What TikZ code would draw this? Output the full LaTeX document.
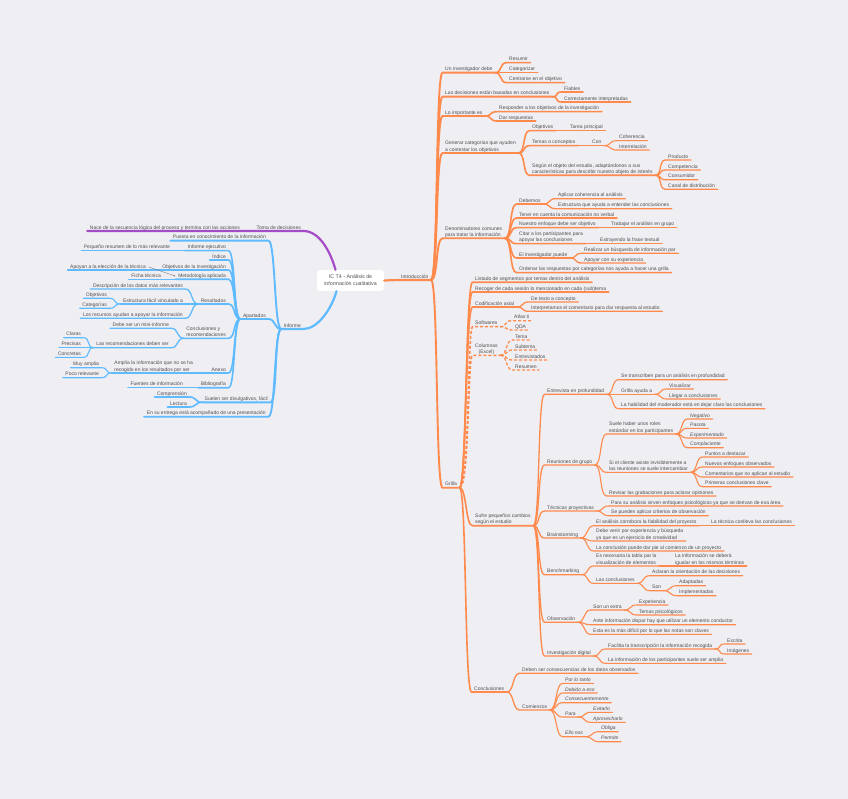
\documentclass[tikz,border=0pt]{standalone}
\usepackage{fontspec}
\setmainfont{Liberation Sans}
\usetikzlibrary{arrows.meta}
\definecolor{Paper}{HTML}{EEEEF3}
\definecolor{Ink}{HTML}{505050}
\definecolor{Orange}{HTML}{FF8A4C}
\definecolor{Sky}{HTML}{5EBBFF}
\definecolor{Violet}{HTML}{A64BC8}
\newcommand\tstrut{\rule[-1.0pt]{0pt}{4pt}}
\tikzset{
  topic/.style={inner xsep=2.5pt,inner ysep=0.6pt,text=Ink,align=left,
    font=\fontsize{5}{6.3}\selectfont,execute at end node=\tstrut},
  rt/.style={topic,anchor=south west},
  lt/.style={topic,anchor=south east},
  it/.style={font=\fontsize{5}{6.3}\selectfont\itshape},
  centre/.style={fill=white,rounded corners=3pt,minimum width=67pt,minimum height=21pt,
    inner sep=0pt,align=center,text=Ink,font=\fontsize{5.3}{7}\selectfont},
  w1/.style={line width=2.2pt,line cap=round,line join=round},
  w2/.style={line width=1.9pt,line cap=round,line join=round},
  w3/.style={line width=1.6pt,line cap=round,line join=round},
  w4/.style={line width=1.3pt,line cap=round,line join=round},
  w5/.style={line width=1.1pt,line cap=round,line join=round},
  dsh/.style={dash pattern=on 3pt off 2pt,line cap=butt}
}
\begin{document}
\begin{tikzpicture}[x=1pt,y=-1pt]
  \useasboundingbox (0,0) rectangle (848,799);
  \fill[Paper] (0,0) rectangle (848,799);

  % centre
  \node[centre] (root) at (350.5,280.5) {IC T4 - Análisis de\\información cualitativa};

  % Introduccion
  \node[rt] (intro) at (398.5,280) {Introducción};
  \node[rt] (uid) at (442.5,72.7) {Un investigador debe};
  \node[rt] (res) at (506.5,62.7) {Resumir};
  \node[rt] (cat) at (506.5,72.7) {Categorizar};
  \node[rt] (cen) at (506.5,82.7) {Centrarse en el objetivo};
  \node[rt] (dec) at (442.5,96.7) {Las decisiones están basadas en conclusiones};
  \node[rt] (fia) at (561.5,92) {Fiables};
  \node[rt] (cor) at (561.5,102) {Correctamente interpretadas};
  \node[rt] (imp) at (442.5,116) {Lo importante es};
  \node[rt] (rsp) at (496.5,111.7) {Responder a los objetivos de la investigación};
  \node[rt] (dar) at (496.5,121) {Dar respuestas};
  \node[rt] (gen) at (442.5,153) {Generar categorías que ayuden\\a contestar los objetivos};
  \node[rt] (obj) at (529.5,130.7) {Objetivos};
  \node[rt] (tar) at (567.5,130.7) {Tarea principal};
  \node[rt] (tem) at (529.5,145.7) {Temas o conceptos};
  \node[rt] (con) at (589.5,145.7) {Con};
  \node[rt] (coh) at (616.5,140.7) {Coherencia};
  \node[rt] (itr) at (616.5,150) {Interrelación};
  \node[rt] (seg) at (529.5,175.3) {Según el objeto del estudio, adaptándonos a sus\\características para describir nuestro objeto de interés};
  \node[rt] (pro) at (665.5,160) {Producto};
  \node[rt] (cpt) at (665.5,170) {Competencia};
  \node[rt] (csm) at (665.5,179.7) {Consumidor};
  \node[rt] (cnl) at (665.5,189.3) {Canal de distribución};
  \node[rt] (den) at (442.5,238.3) {Denominadores comunes\\para tratar la información};
  \node[rt] (deb) at (516.5,204) {Debemos};
  \node[rt] (apl) at (555.5,198.7) {Aplicar coherencia al análisis};
  \node[rt] (est) at (555.5,208.7) {Estructura que ayuda a entender las conclusiones};
  \node[rt] (ten) at (516.5,218) {Tener en cuenta la comunicación no verbal};
  \node[rt] (nue) at (516.5,227.7) {Nuestro enfoque debe ser objetivo};
  \node[rt] (tra) at (608.5,227.7) {Trabajar el análisis en grupo};
  \node[rt] (cit) at (516.5,243.7) {Citar a los participantes para\\apoyar las conclusiones};
  \node[rt] (ext) at (597.5,243.7) {Extrayendo la frase textual};
  \node[rt] (inv) at (516.5,258) {El investigador puede};
  \node[rt] (rea) at (581.5,253.3) {Realizar un búsqueda de información par};
  \node[rt] (apo) at (581.5,263) {Apoyar con su experiencia};
  \node[rt] (ord) at (516.5,272.7) {Ordenar las respuestas por categorías nos ayuda a hacer una grilla};

  % Grilla
  \node[rt] (gri) at (442.5,487.7) {Grilla};
  \node[rt] (lis) at (472.5,282.3) {Listado de segmentos por temas dentro del análisis};
  \node[rt] (rec) at (472.5,292) {Recoger de cada sesión lo mencionado en cada (sub)tema};
  \node[rt] (cod) at (472.5,307) {Codificación axial};
  \node[rt] (txc) at (528.5,302) {De texto a concepto};
  \node[rt] (ipr) at (528.5,311.3) {Interpretamos el comentario para dar respuesta al estudio};
  \node[rt] (sof) at (472.5,326.7) {Softwares};
  \node[rt] (atl) at (511.5,320.7) {Atlas ti};
  \node[rt] (qda) at (512.5,330) {QDA};
  \node[rt,align=center] (col) at (472.5,355.3) {Columnas\\(Excel)};
  \node[rt] (tma) at (512.5,340) {Tema};
  \node[rt] (sbt) at (512.5,350) {Subtema};
  \node[rt] (etv) at (512.5,360) {Entrevistados};
  \node[rt] (rsm) at (512.5,370) {Resumen};
  \node[rt] (suf) at (472.5,525.7) {Sufre pequeños cambios\\según el estudio};
  \node[rt] (ent) at (544.5,394.3) {Entrevista en profundidad};
  \node[rt] (stp) at (618.5,379.7) {Se transcriben para un análisis en profundidad};
  \node[rt] (gay) at (618.5,394.3) {Grilla ayuda a};
  \node[rt] (vis) at (666.5,389) {Visualizar};
  \node[rt] (llc) at (666.5,399) {Llegar a conclusiones};
  \node[rt] (hab) at (618.5,408.7) {La habilidad del moderador está en dejar claro las conclusiones};
  \node[rt] (reu) at (544.5,465) {Reuniones de grupo};
  \node[rt] (rol) at (606.5,434) {Suele haber unos roles\\estándar en los participantes};
  \node[rt,it] (neg) at (687.5,419) {Negativo};
  \node[rt,it] (pas) at (687.5,428.3) {Pasota};
  \node[rt,it] (exm) at (687.5,438) {Experimentado};
  \node[rt,it] (cpl) at (687.5,447.7) {Complaciente};
  \node[rt] (cli) at (606.5,472.3) {Si el cliente asiste invisiblemente a\\las reuniones se suele intercambiar};
  \node[rt] (pad) at (702.5,457) {Puntos a destacar};
  \node[rt] (neo) at (702.5,467) {Nuevos enfoques observados};
  \node[rt] (cna) at (702.5,477) {Comentarios que no aplican al estudio};
  \node[rt] (pcc) at (702.5,486.7) {Primeras conclusiones clave};
  \node[rt] (rev) at (606.5,496) {Revisar las grabaciones para aclarar opiniones};
  \node[rt] (tec) at (544.5,511) {Técnicas proyectivas};
  \node[rt] (psa) at (608.5,506) {Para su análisis sirven enfoques psicológicos ya que se derivan de esa área};
  \node[rt] (spa) at (608.5,515.7) {Se pueden aplicar criterios de observación};
  \node[rt] (bra) at (544.5,538) {Brainstorming};
  \node[rt] (cob) at (593.5,525.7) {El análisis corrobora la fiabilidad del proyecto};
  \node[rt] (tcc) at (708.5,525.7) {La técnica conlleva las conclusiones};
  \node[rt] (dvp) at (593.5,541) {Debe venir por experiencia y búsqueda\\ya que es un ejercicio de creatividad};
  \node[rt] (lcp) at (593.5,551) {La conclusión puede dar pie al comienzo de un proyecto};
  \node[rt] (ben) at (544.5,574.7) {Benchmarking};
  \node[rt] (nec) at (593.5,566) {Es necesaria la tabla par la\\visualización de elementos};
  \node[rt] (lid) at (672.5,566) {La información se deberá\\igualar en los mismos términos};
  \node[rt] (lcs) at (593.5,583.3) {Las conclusiones};
  \node[rt] (acl) at (649.5,575.7) {Aclaran la orientación de las decisiones};
  \node[rt] (son) at (649.5,590.7) {Son};
  \node[rt] (adp) at (676.5,585.7) {Adaptadas};
  \node[rt] (ipl) at (676.5,595.7) {Implementadas};
  \node[rt] (obs) at (544.5,622.3) {Observación};
  \node[rt] (sux) at (590.5,610) {Son un extra};
  \node[rt] (exi) at (636.5,605) {Experiencia};
  \node[rt] (tps) at (636.5,615) {Temas psicológicos};
  \node[rt] (aid) at (590.5,624.7) {Ante información dispar hay que utilizar un elemento conductor};
  \node[rt] (emd) at (590.5,634.3) {Esta es la más difícil por lo que las notas son claves};
  \node[rt] (dig) at (544.5,656) {Investigación digital};
  \node[rt] (ftr) at (605.5,649) {Facilita la transcripción la información recogida};
  \node[rt] (esc) at (724.5,644) {Escrita};
  \node[rt] (img) at (724.5,654) {Imágenes};
  \node[rt] (ipa) at (605.5,663.3) {La información de los participantes suele ser amplia};
  \node[rt] (cnc) at (471.5,692) {Conclusiones};
  \node[rt] (dsc) at (519.5,673.3) {Deben ser consecuencias de los datos observados};
  \node[rt] (cmz) at (519.5,710) {Comienzos};
  \node[rt,it] (plt) at (562.5,683.3) {Por lo tanto};
  \node[rt,it] (dae) at (562.5,693) {Debido a eso};
  \node[rt,it] (csc) at (562.5,702.7) {Consecuentemente};
  \node[rt,it] (pra) at (562.5,717) {Para};
  \node[rt,it] (evi) at (590.5,712.3) {Evitarlo};
  \node[rt,it] (apr) at (590.5,722.3) {Aprovecharlo};
  \node[rt,it] (eln) at (562.5,736.7) {Ello nos};
  \node[rt,it] (obl) at (598.5,731.7) {Obliga};
  \node[rt,it] (pmt) at (598.5,741.7) {Permite};

  % Toma de decisiones / Informe
  \node[lt] (tdd) at (303.5,231) {Toma de decisiones};
  \node[lt] (nac) at (242.5,231) {Nace de la secuencia lógica del proceso y termina con las acciones};
  \node[lt] (inf) at (303.5,329) {Informe};
  \node[lt] (pue) at (268.5,240.7) {Puesta en conocimiento de la información};
  \node[lt] (apa) at (268.5,319) {Apartados};
  \node[lt] (iej) at (228.5,250.7) {Informe ejecutivo};
  \node[lt] (pqr) at (172.5,250.7) {Pequeño resumen de lo más relevante};
  \node[lt] (ind) at (228.5,260) {Índice};
  \node[lt] (oin) at (228.5,270) {Objetivos de la investigación};
  \node[lt] (apy) at (148.5,270) {Apoyan a la elección de la técnica};
  \node[lt] (met) at (228.5,279.3) {Metodología aplicada};
  \node[lt] (fic) at (163.5,279.3) {Ficha técnica};
  \node[lt] (rsl) at (228.5,304) {Resultados};
  \node[lt] (dlr) at (185.5,289) {Descripción de los datos más relevantes};
  \node[lt] (efv) at (185.5,304) {Estructura fácil vinculado a};
  \node[lt] (ojl) at (109.5,298.3) {Objetivos};
  \node[lt] (ctl) at (109.5,308.3) {Categorías};
  \node[lt] (lra) at (185.5,318.3) {Los recursos ayudan a apoyar la información};
  \node[lt] (cyr) at (228.5,338.3) {Conclusiones y\\recomendaciones};
  \node[lt] (dmi) at (171.5,328.3) {Debe ser un mini-informe};
  \node[lt] (lrd) at (171.5,347.7) {Las recomendaciones deben ser};
  \node[lt] (clr) at (83.5,337.7) {Claras};
  \node[lt] (prc) at (83.5,347.7) {Precisas};
  \node[lt] (cct) at (83.5,357.3) {Concretas};
  \node[lt] (anx) at (228.5,373) {Anexo};
  \node[lt] (ami) at (195.5,373) {Amplía la información que no se ha\\recogido en los resultados por ser};
  \node[lt] (mam) at (101.5,367.7) {Muy amplia};
  \node[lt] (pcr) at (101.5,377.7) {Poco relevante};
  \node[lt] (bib) at (228.5,387.7) {Bibliografía};
  \node[lt] (fdi) at (185.5,387.7) {Fuentes de información};
  \node[lt] (sdv) at (270.5,402.3) {Suelen ser divulgativos, fácil};
  \node[lt] (cpn) at (189.5,397) {Comprensión};
  \node[lt] (lec) at (189.5,407) {Lectura};
  \node[lt] (ens) at (268.5,416.7) {En su entrega está acompañado de una presentación};

  % connectors, right
  \draw[Orange,w1] (root.east) -- (intro.south west) -- (intro.south east);
  \foreach \a/\b in {intro/uid,intro/dec,intro/imp,intro/gen,intro/den,intro/gri}
    \draw[Orange,w2] (\a.south east) .. controls +(7,0) and +(-7,0) .. (\b.south west) -- (\b.south east);
  \foreach \a/\b in {gri/lis,gri/rec,gri/cod,gri/suf,gri/cnc,uid/res,uid/cat,uid/cen,dec/fia,dec/cor,
      imp/rsp,imp/dar,gen/obj,gen/tem,gen/seg,den/deb,den/ten,den/nue,den/cit,den/inv,den/ord}
    \draw[Orange,w3] (\a.south east) .. controls +(7,0) and +(-7,0) .. (\b.south west) -- (\b.south east);
  \foreach \a/\b in {gri/sof,gri/col}
    \draw[Orange,w3,dsh] (\a.south east) .. controls +(10,0) and +(-5,0) .. (\b.south west) -- (\b.south east);
  \foreach \a/\b in {cod/txc,cod/ipr,suf/ent,suf/reu,suf/tec,suf/bra,suf/ben,suf/obs,suf/dig,cnc/dsc,cnc/cmz,
      obj/tar,tem/con,seg/pro,seg/cpt,seg/csm,seg/cnl,deb/apl,deb/est,nue/tra,cit/ext,inv/rea,inv/apo}
    \draw[Orange,w4] (\a.south east) .. controls +(7,0) and +(-7,0) .. (\b.south west) -- (\b.south east);
  \foreach \a/\b in {sof/atl,sof/qda,col/tma,col/sbt,col/etv,col/rsm}
    \draw[Orange,w4,dsh] (\a.south east) .. controls +(7,0) and +(-7,0) .. (\b.south west) -- (\b.south east);
  \foreach \a/\b in {ent/stp,ent/gay,ent/hab,gay/vis,gay/llc,reu/rol,reu/cli,reu/rev,rol/neg,rol/pas,rol/exm,
      rol/cpl,cli/pad,cli/neo,cli/cna,cli/pcc,tec/psa,tec/spa,bra/cob,bra/dvp,bra/lcp,cob/tcc,ben/nec,
      ben/lcs,nec/lid,lcs/acl,lcs/son,son/adp,son/ipl,obs/sux,obs/aid,obs/emd,sux/exi,sux/tps,dig/ftr,
      dig/ipa,ftr/esc,ftr/img,cmz/plt,cmz/dae,cmz/csc,cmz/pra,cmz/eln,pra/evi,pra/apr,eln/obl,eln/pmt,
      con/coh,con/itr}
    \draw[Orange,w5] (\a.south east) .. controls +(7,0) and +(-7,0) .. (\b.south west) -- (\b.south east);

  % connectors, left
  \draw[Violet,w1] ([xshift=-15pt]root.north) .. controls +(-5,-18) and +(16,0) .. (tdd.south east)
    -- (tdd.south west) -- (nac.south east) -- (nac.south west);
  \draw[Sky,w1] ([xshift=-14pt]root.south) .. controls +(-5,18) and +(14,0) .. (inf.south east) -- (inf.south west);
  \foreach \a/\b in {inf/pue,inf/apa,inf/sdv,inf/ens}
    \draw[Sky,w2] (\a.south west) .. controls +(-7,0) and +(7,0) .. (\b.south east) -- (\b.south west);
  \foreach \a/\b in {apa/iej,apa/ind,apa/oin,apa/met,apa/rsl,apa/cyr,apa/anx,apa/bib,sdv/cpn,sdv/lec}
    \draw[Sky,w3] (\a.south west) .. controls +(-7,0) and +(7,0) .. (\b.south east) -- (\b.south west);
  \foreach \a/\b in {iej/pqr,oin/apy,met/fic,rsl/dlr,rsl/efv,rsl/lra,cyr/dmi,cyr/lrd,anx/ami,bib/fdi}
    \draw[Sky,w4] (\a.south west) .. controls +(-7,0) and +(7,0) .. (\b.south east) -- (\b.south west);
  \foreach \a/\b in {efv/ojl,efv/ctl,lrd/clr,lrd/prc,lrd/cct,ami/mam,ami/pcr}
    \draw[Sky,w5] (\a.south west) .. controls +(-7,0) and +(7,0) .. (\b.south east) -- (\b.south west);
  \draw[gray,line width=0.4pt,-{Stealth[length=2pt,width=1.6pt]}] (apy.east) -- (met.west);
\end{tikzpicture}
\end{document}
